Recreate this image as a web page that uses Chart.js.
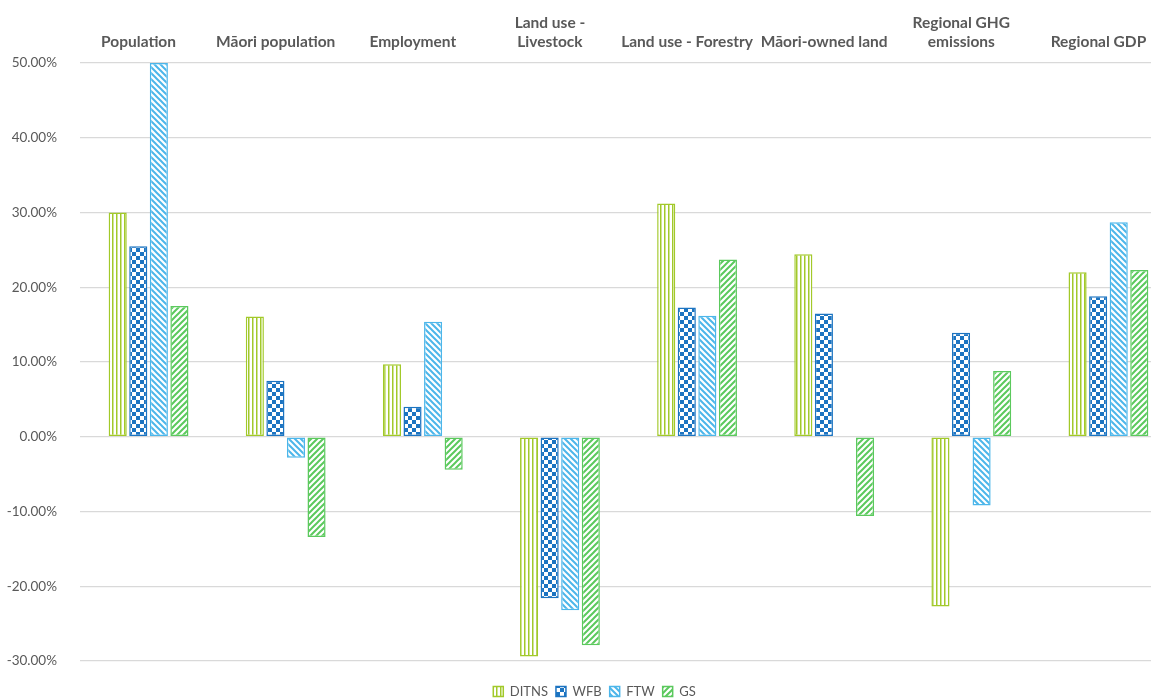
<!DOCTYPE html>
<html>
<head>
<meta charset="utf-8">
<script src="https://cdn.jsdelivr.net/npm/chart.js@4.4.1/dist/chart.umd.min.js"></script>
<style>
  html, body { margin: 0; padding: 0; background: #fff; overflow: hidden; }
  #wrap { width: 1177px; height: 699px; }
</style>
</head>
<body>
<div id="wrap"><canvas id="chart" width="1177" height="699"></canvas></div>
<script>
const categories = [
  "Population", "Māori population", "Employment", ["Land use -", "Livestock"],
  "Land use - Forestry", "Māori-owned land", ["Regional GHG", "emissions"], "Regional GDP"
];
const seriesNames = ["DITNS", "WFB", "FTW", "GS"];
const ditns = [0.300, 0.161, 0.097, -0.294, 0.312, 0.244, -0.227, 0.220];
const wfb = [0.255, 0.075, 0.040, -0.216, 0.173, 0.165, 0.139, 0.188];
const ftw = [0.500, -0.028, 0.154, -0.232, 0.162, 0.000, -0.092, 0.287];
const gs = [0.175, -0.134, -0.044, -0.279, 0.237, -0.106, 0.088, 0.223];
const yTicks = [-0.3, -0.2, -0.1, 0, 0.1, 0.2, 0.3, 0.4, 0.5];

const colors = ["#a2c92a", "#1c74c1", "#4cb6ea", "#5bc95d"];

function makePattern(kind, color) {
  const c = document.createElement("canvas");
  const s = kind === "vert" ? 4 : (kind === "check" ? 8 : 6);
  c.width = s; c.height = s;
  const g = c.getContext("2d");
  g.fillStyle = "#fff";
  g.fillRect(0, 0, s, s);
  g.fillStyle = color;
  g.strokeStyle = color;
  if (kind === "vert") {
    g.fillRect(0, 0, 1.5, s);
  } else if (kind === "check") {
    g.fillRect(0, 0, 4, 4);
    g.fillRect(4, 4, 4, 4);
  } else if (kind === "down") {
    g.lineWidth = 2;
    g.beginPath();
    g.moveTo(-1, -1); g.lineTo(s + 1, s + 1);
    g.moveTo(-1, s - 1); g.lineTo(1, s + 1);
    g.moveTo(s - 1, -1); g.lineTo(s + 1, 1);
    g.stroke();
  } else {
    g.lineWidth = 2;
    g.beginPath();
    g.moveTo(-1, s + 1); g.lineTo(s + 1, -1);
    g.moveTo(-1, 1); g.lineTo(1, -1);
    g.moveTo(s - 1, s + 1); g.lineTo(s + 1, s - 1);
    g.stroke();
  }
  return g.createPattern(c, "repeat");
}

const kinds = ["vert", "check", "down", "up"];
const values = [ditns, wfb, ftw, gs];

const datasets = seriesNames.map((name, i) => ({
  label: name,
  data: values[i],
  backgroundColor: makePattern(kinds[i], colors[i]),
  borderColor: colors[i],
  borderWidth: 1.5,
  borderSkipped: false,
  categoryPercentage: 0.6,
  barPercentage: 0.88
}));

const textColor = "#595959";
const fontFamily = "Lato, 'Open Sans', sans-serif";

// nudge the legend down and right to sit where the original has it
const legendShift = {
  id: "legendShift",
  afterLayout(chart) {
    const l = chart.legend;
    l.top += 16; l.bottom += 16;
    l.left += 6; l.right += 6;
  }
};

new Chart(document.getElementById("chart"), {
  type: "bar",
  data: { labels: categories, datasets: datasets },
  plugins: [legendShift],
  options: {
    responsive: false,
    animation: false,
    layout: { padding: { left: 0, right: 0, top: 0, bottom: 7 } },
    plugins: {
      legend: {
        position: "bottom",
        labels: {
          color: textColor,
          font: { family: fontFamily, size: 13 },
          boxWidth: 10,
          boxHeight: 10,
          padding: 8
        }
      },
      tooltip: { enabled: false }
    },
    scales: {
      x: {
        position: "top",
        grid: { display: false, drawTicks: false },
        border: { display: false },
        ticks: {
          color: textColor,
          font: { family: fontFamily, size: 15.5, weight: "bold" },
          maxRotation: 0,
          autoSkip: false,
          labelOffset: -10,
          padding: 12
        },
        afterFit: (scale) => { scale.height = 63; }
      },
      y: {
        min: -0.3,
        max: 0.5,
        afterBuildTicks: (scale) => { scale.ticks = yTicks.map(v => ({ value: v })); },
        grid: { color: "#d9d9d9", lineWidth: 1.3, drawTicks: false },
        border: { display: false },
        ticks: {
          color: textColor,
          font: { family: fontFamily, size: 13.5 },
          padding: 23,
          callback: (v) => (v * 100).toFixed(2) + "%"
        },
        afterFit: (scale) => { scale.width = 80; }
      }
    }
  }
});
</script>
</body>
</html>
